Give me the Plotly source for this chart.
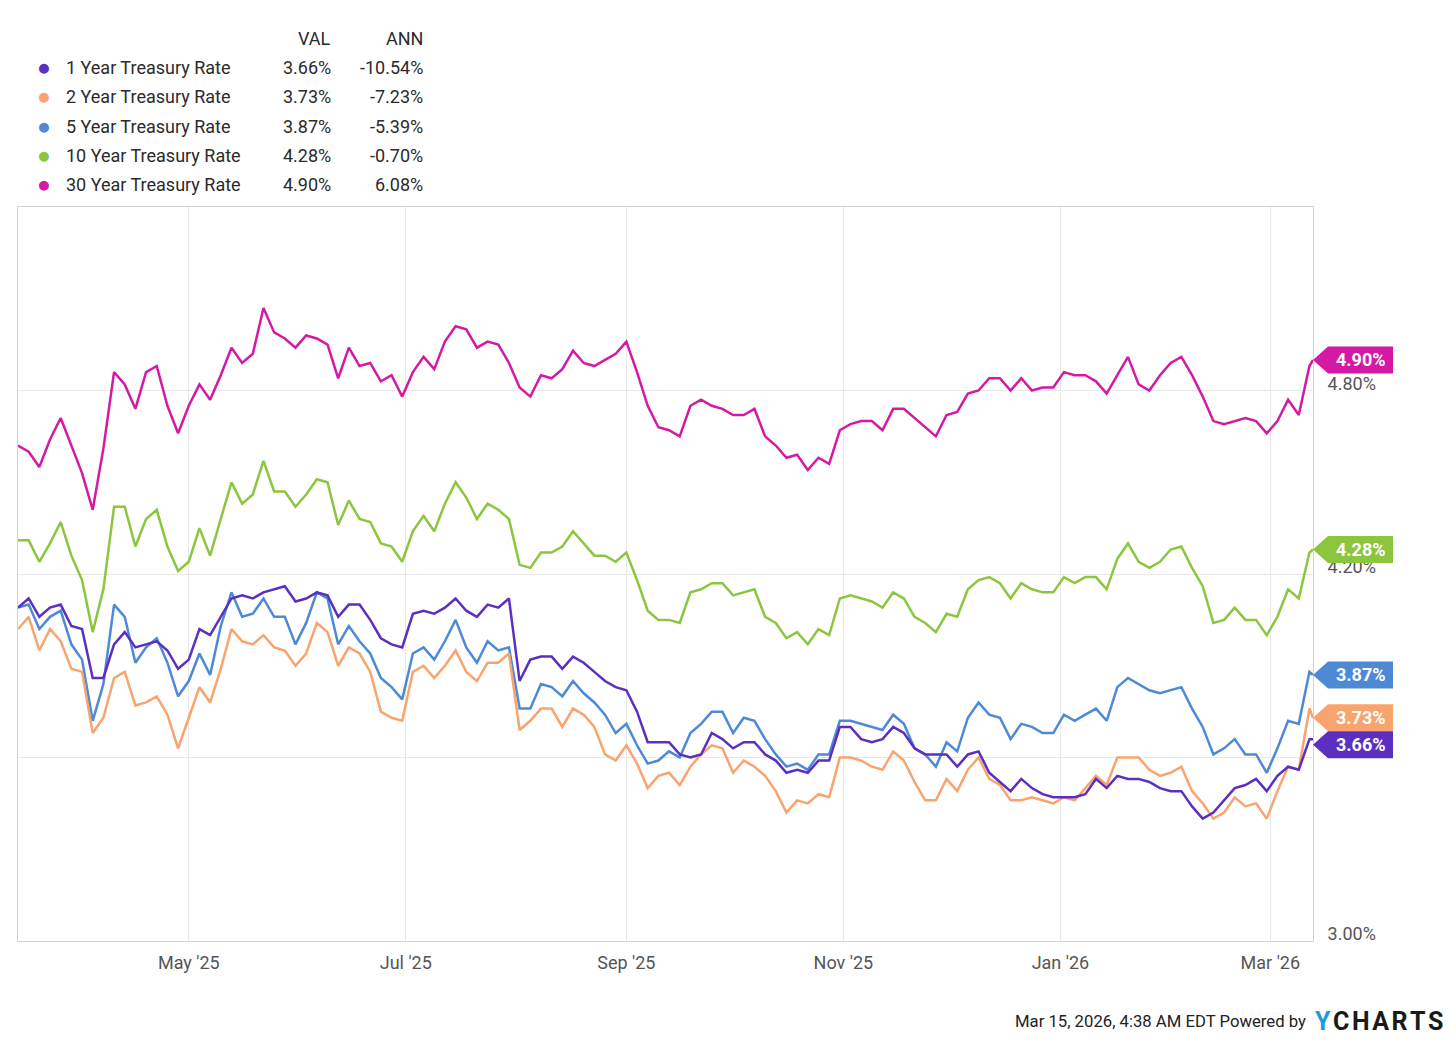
import pandas as pd
import plotly.graph_objects as go

datas = list(pd.date_range("2025-03-14", "2026-03-12", freq="3D")) + [pd.Timestamp("2026-03-13")]

taxa_1a = [
    4.09, 4.12, 4.06, 4.09, 4.10, 4.03, 4.02, 3.86, 3.86, 3.97, 4.01, 3.96, 3.97, 3.98, 3.95, 3.89,
    3.92, 4.02, 4.00, 4.06, 4.12, 4.13, 4.12, 4.14, 4.15, 4.16, 4.11, 4.12, 4.14, 4.13, 4.06,
    4.10, 4.10, 4.05, 3.99, 3.97, 3.96, 4.07, 4.08, 4.07, 4.09, 4.12, 4.08, 4.06, 4.10, 4.09, 4.12,
    3.85, 3.92, 3.93, 3.93, 3.89, 3.93, 3.91, 3.88, 3.85, 3.83, 3.82, 3.75, 3.65, 3.65, 3.65,
    3.61, 3.60, 3.61, 3.68, 3.66, 3.63, 3.65, 3.65, 3.61, 3.59, 3.55, 3.56, 3.55, 3.59, 3.59, 3.70,
    3.70, 3.66, 3.65, 3.66, 3.70, 3.68, 3.63, 3.61, 3.61, 3.61, 3.57, 3.61, 3.62, 3.55, 3.52,
    3.49, 3.53, 3.50, 3.48, 3.47, 3.47, 3.47, 3.48, 3.53, 3.50, 3.54, 3.53, 3.53, 3.52, 3.50,
    3.49, 3.49, 3.44, 3.40, 3.42, 3.46, 3.50, 3.51, 3.53, 3.49, 3.54, 3.57, 3.56, 3.66, 3.66,
]
taxa_2a = [
    4.02, 4.06, 3.95, 4.02, 3.98, 3.89, 3.88, 3.68, 3.73, 3.86, 3.88, 3.77, 3.78, 3.80, 3.74, 3.63,
    3.73, 3.83, 3.78, 3.89, 4.02, 3.98, 3.97, 4.00, 3.96, 3.95, 3.90, 3.94, 4.04, 4.01, 3.90,
    3.96, 3.94, 3.88, 3.75, 3.73, 3.72, 3.88, 3.90, 3.86, 3.90, 3.95, 3.88, 3.85, 3.91, 3.91, 3.94,
    3.69, 3.72, 3.76, 3.76, 3.70, 3.76, 3.74, 3.70, 3.61, 3.59, 3.64, 3.58, 3.50, 3.54, 3.55,
    3.51, 3.57, 3.61, 3.64, 3.63, 3.55, 3.59, 3.57, 3.54, 3.49, 3.42, 3.46, 3.45, 3.48, 3.47, 3.60,
    3.60, 3.59, 3.57, 3.56, 3.62, 3.59, 3.52, 3.46, 3.46, 3.53, 3.49, 3.56, 3.60, 3.53, 3.51,
    3.46, 3.46, 3.47, 3.46, 3.45, 3.47, 3.46, 3.50, 3.54, 3.51, 3.60, 3.60, 3.60, 3.56, 3.54,
    3.55, 3.57, 3.49, 3.45, 3.40, 3.42, 3.47, 3.44, 3.45, 3.40, 3.49, 3.57, 3.56, 3.76, 3.73,
]
taxa_5a = [
    4.09, 4.10, 4.02, 4.06, 4.08, 3.97, 3.92, 3.72, 3.84, 4.10, 4.06, 3.91, 3.96, 3.99, 3.91, 3.80,
    3.85, 3.94, 3.87, 4.03, 4.14, 4.06, 4.07, 4.12, 4.06, 4.06, 3.97, 4.04, 4.14, 4.12, 3.97,
    4.03, 3.98, 3.94, 3.86, 3.83, 3.79, 3.94, 3.96, 3.92, 3.98, 4.05, 3.96, 3.91, 3.98, 3.95, 3.96,
    3.76, 3.76, 3.84, 3.83, 3.80, 3.85, 3.81, 3.78, 3.74, 3.68, 3.71, 3.64, 3.58, 3.59, 3.62,
    3.60, 3.68, 3.71, 3.75, 3.75, 3.68, 3.73, 3.72, 3.66, 3.61, 3.57, 3.58, 3.56, 3.61, 3.61, 3.72,
    3.72, 3.71, 3.70, 3.69, 3.74, 3.71, 3.63, 3.61, 3.57, 3.65, 3.62, 3.73, 3.78, 3.74, 3.73,
    3.66, 3.71, 3.70, 3.68, 3.68, 3.74, 3.72, 3.74, 3.76, 3.72, 3.83, 3.86, 3.84, 3.82, 3.81,
    3.82, 3.83, 3.76, 3.70, 3.61, 3.63, 3.66, 3.61, 3.61, 3.55, 3.63, 3.72, 3.71, 3.88, 3.87,
]
taxa_10a = [
    4.31, 4.31, 4.24, 4.30, 4.37, 4.26, 4.18, 4.01, 4.15, 4.42, 4.42, 4.29, 4.38, 4.41, 4.29, 4.21,
    4.24, 4.35, 4.26, 4.38, 4.50, 4.43, 4.46, 4.57, 4.47, 4.47, 4.42, 4.46, 4.51, 4.50, 4.36,
    4.44, 4.38, 4.37, 4.30, 4.29, 4.24, 4.34, 4.39, 4.34, 4.43, 4.50, 4.45, 4.38, 4.43, 4.41, 4.38,
    4.23, 4.22, 4.27, 4.27, 4.29, 4.34, 4.30, 4.26, 4.26, 4.24, 4.27, 4.18, 4.08, 4.05, 4.05,
    4.04, 4.14, 4.15, 4.17, 4.17, 4.13, 4.14, 4.15, 4.06, 4.04, 3.99, 4.01, 3.97, 4.02, 4.00, 4.12,
    4.13, 4.12, 4.11, 4.09, 4.14, 4.12, 4.06, 4.04, 4.01, 4.07, 4.06, 4.15, 4.18, 4.19, 4.17,
    4.12, 4.17, 4.15, 4.14, 4.14, 4.19, 4.17, 4.19, 4.19, 4.15, 4.25, 4.30, 4.24, 4.22, 4.24,
    4.28, 4.29, 4.22, 4.16, 4.04, 4.05, 4.09, 4.05, 4.05, 4.00, 4.06, 4.15, 4.12, 4.27, 4.28,
]
taxa_30a = [
    4.62, 4.60, 4.55, 4.64, 4.71, 4.62, 4.53, 4.41, 4.61, 4.86, 4.82, 4.74, 4.86, 4.88, 4.75, 4.66,
    4.75, 4.82, 4.77, 4.85, 4.94, 4.89, 4.92, 5.07, 4.99, 4.97, 4.94, 4.98, 4.97, 4.95, 4.84,
    4.94, 4.88, 4.89, 4.83, 4.85, 4.78, 4.86, 4.91, 4.87, 4.96, 5.01, 5.00, 4.94, 4.96, 4.95, 4.89,
    4.81, 4.78, 4.85, 4.84, 4.87, 4.93, 4.89, 4.88, 4.90, 4.92, 4.96, 4.86, 4.75, 4.68, 4.67,
    4.65, 4.75, 4.77, 4.75, 4.74, 4.72, 4.72, 4.74, 4.65, 4.62, 4.58, 4.59, 4.54, 4.58, 4.56, 4.67,
    4.69, 4.70, 4.70, 4.67, 4.74, 4.74, 4.71, 4.68, 4.65, 4.72, 4.73, 4.79, 4.80, 4.84, 4.84,
    4.80, 4.84, 4.80, 4.81, 4.81, 4.86, 4.85, 4.85, 4.83, 4.79, 4.85, 4.91, 4.82, 4.80, 4.85,
    4.89, 4.91, 4.85, 4.78, 4.70, 4.69, 4.70, 4.71, 4.70, 4.66, 4.70, 4.77, 4.72, 4.88, 4.90,
]

nomes = ["1 Year Treasury Rate", "2 Year Treasury Rate", "5 Year Treasury Rate",
         "10 Year Treasury Rate", "30 Year Treasury Rate"]
anual = ["-10.54%", "-7.23%", "-5.39%", "-0.70%", "6.08%"]
cores = ["#5b2fc0", "#f9a46f", "#4e89d6", "#8cc63f", "#d41aa5"]
series = [taxa_1a, taxa_2a, taxa_5a, taxa_10a, taxa_30a]
ticks_y = [3.0, 3.6, 4.2, 4.8]

fonte = "Roboto"
faixa_y = [3.0, 5.4]
altura_plot = 734  # pixels da area do grafico
altura_etiqueta = 27

fig = go.Figure()

# 30 anos primeiro, 1 ano por cima
for nome, serie, cor in reversed(list(zip(nomes, series, cores))):
    fig.add_trace(go.Scatter(x=datas, y=serie, mode="lines", name=nome,
                             line=dict(color=cor, width=2.5), showlegend=False))

# etiquetas com o ultimo valor na direita, empurrando pra baixo quando encostam
passo = altura_etiqueta * (faixa_y[1] - faixa_y[0]) / altura_plot
anterior = None
for serie, cor in sorted(zip(series, cores), key=lambda p: -p[0][-1]):
    ultimo = serie[-1]
    pos = ultimo
    if anterior is not None and anterior - pos < passo:
        pos = anterior - passo
    anterior = pos
    fig.add_shape(type="path", xref="paper", yref="y", xsizemode="pixel", ysizemode="pixel",
                  xanchor=1, yanchor=pos,
                  path="M0,0 L15,13.5 L80,13.5 L80,-13.5 L15,-13.5 Z",
                  fillcolor=cor, line_width=0, layer="above")
    fig.add_annotation(x=1, xref="paper", y=pos, yref="y", text=f"<b>{ultimo:.2f}%</b>",
                       showarrow=False, xanchor="center", xshift=48,
                       font=dict(family=fonte, size=18, color="white"))


# posicoes da legenda em pixels -> paper
def px_x(x):
    return (x - 18) / 1295


def px_y(y):
    return (941 - y) / altura_plot


def texto(x, y, txt, alinha, tamanho=18, cor="#2b2b2b"):
    fig.add_annotation(x=px_x(x), y=px_y(y), xref="paper", yref="paper", text=txt,
                       xanchor=alinha, yanchor="middle", showarrow=False,
                       font=dict(family=fonte, size=tamanho, color=cor))


texto(333, 39, "VAL", "right")
texto(425, 39, "ANN", "right")
for i, (nome, serie, cor, ann) in enumerate(zip(nomes, series, cores, anual)):
    y = 68 + 29 * i
    texto(44, y, "●", "center", 23, cor)
    texto(64, y, nome, "left")
    texto(333, y, f"{serie[-1]:.2f}%", "right")
    texto(425, y, ann, "right")

# rodape
texto(1308, 1022, "Mar 15, 2026, 4:38 AM EDT Powered by", "right", 16.7, "#222222")
texto(1313, 1022,
      "<b><span style='color:#1e9bd7'>Y</span>\u200aC\u200aH\u200aA\u200aR\u200aT\u200aS</b>",
      "left", 25, "#1a1a1a")

fig.update_layout(
    width=1456, height=1045,
    margin=dict(l=18, r=143, t=207, b=104),
    paper_bgcolor="white", plot_bgcolor="white",
    font=dict(family=fonte, size=18, color="#555555"),
    xaxis=dict(range=["2025-03-14", "2026-03-13"], tick0="2025-01-01", dtick="M2",
               tickformat="%b '%y", showgrid=True, gridcolor="#e8e8e8", gridwidth=1,
               showline=True, mirror=True, linecolor="#d4d4d4", linewidth=1,
               zeroline=False, ticks="", ticklabelstandoff=5,
               tickfont=dict(family=fonte, size=18, color="#555555")),
    yaxis=dict(range=faixa_y, side="right", tickvals=ticks_y,
               ticktext=[f"{v:.2f}%" for v in ticks_y], showgrid=True, gridcolor="#e8e8e8",
               gridwidth=1, showline=True, mirror=True, linecolor="#d4d4d4", linewidth=1,
               zeroline=False, ticks="", ticklabelstandoff=10, ticklabelshift=-7,
               tickfont=dict(family=fonte, size=18, color="#555555")),
)

fig.write_html("out.html", config={"displayModeBar": False},
               post_script="document.body.style.margin='0';")
